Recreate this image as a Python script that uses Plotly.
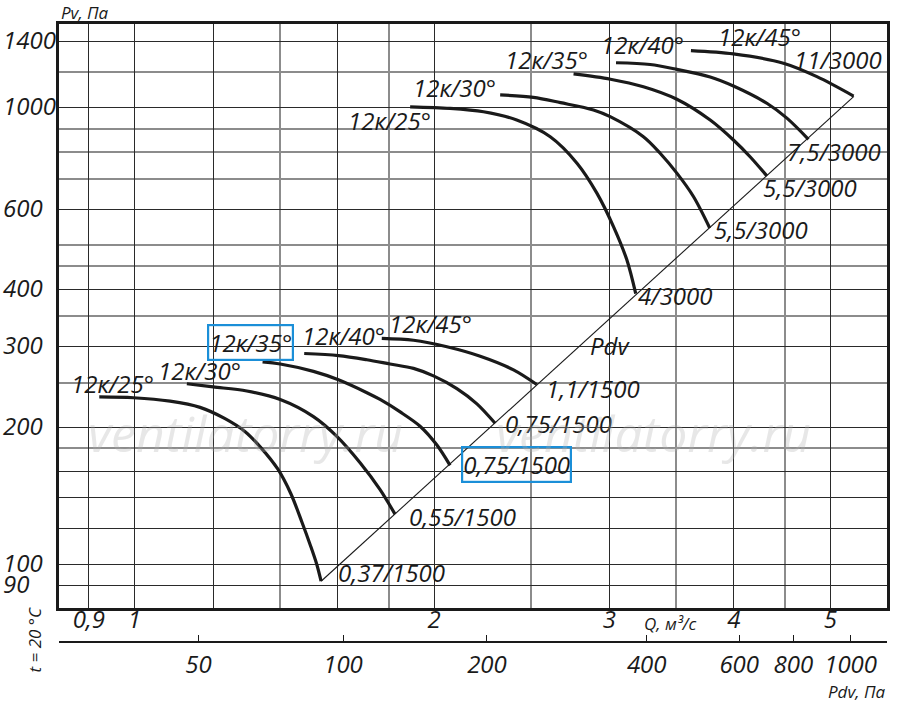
import numpy as np
import plotly.graph_objects as go

# --- fan curves Pv(Q) ---------------------------------------------------
# 1500 rpm group
q_25_1500 = [0.922, 0.998, 1.086, 1.164, 1.232, 1.292, 1.341, 1.393, 1.436, 1.473, 1.504, 1.525, 1.540]
pv_25_1500 = [233, 232, 228, 221, 209, 195.5, 180, 162, 143, 124, 109.5, 100, 92]
q_30_1500 = [1.129, 1.200, 1.297, 1.401, 1.513, 1.597, 1.686, 1.765, 1.827]
pv_30_1500 = [249, 245, 240, 230, 211, 191, 167, 146, 129]
q_35_1500 = [1.345, 1.401, 1.513, 1.603, 1.712, 1.765, 1.849, 1.936, 2.012, 2.075]
pv_35_1500 = [278, 275, 265, 254, 238, 230, 216, 201, 183, 165]
q_40_1500 = [1.481, 1.603, 1.712, 1.806, 1.907, 1.997, 2.108, 2.208, 2.303]
pv_40_1500 = [290, 287, 281, 275, 269, 259, 243, 225, 204]
q_45_1500 = [1.772, 1.907, 2.060, 2.225, 2.403, 2.536]
pv_45_1500 = [313, 310, 300, 286, 267, 248]

# 3000 rpm group
q_25_3000 = [1.892, 2.075, 2.242, 2.421, 2.616, 2.783, 2.914, 3.028, 3.123, 3.188]
pv_25_3000 = [1006, 998, 981, 941, 865, 757, 651, 550, 465, 392]
q_30_3000 = [2.330, 2.516, 2.679, 2.891, 3.005, 3.245, 3.373, 3.506, 3.643, 3.783]
pv_30_3000 = [1068, 1055, 1027, 990, 957, 865, 796, 720, 640, 546]
q_35_3000 = [2.761, 3.007, 3.245, 3.506, 3.787, 3.996, 4.153, 4.317]
pv_35_3000 = [1187, 1156, 1113, 1045, 941, 851, 782, 710]
q_40_3000 = [3.046, 3.296, 3.506, 3.787, 3.996, 4.317, 4.522, 4.753]
pv_40_3000 = [1256, 1245, 1215, 1169, 1117, 1024, 950, 854]
q_45_3000 = [3.622, 3.996, 4.486, 4.847, 5.276]
pv_45_3000 = [1335, 1313, 1253, 1171, 1062]

# dynamic pressure line Pdv
q_pdv = [1.54, 5.28]
pv_pdv = [92, 1060]

# axes
q_ticks = [0.9, 1, 1.2, 1.6, 2, 3, 4, 5]
q_ticktext = ["0,9", "1", "", "", "2", "3", "4", "5"]
q_minor = [1.4, 1.8, 2.5, 3.5, 4.5]
pv_grid = [90, 100, 120, 140, 160, 200, 300, 400, 600, 1000, 1400]
pv_minor = [180, 250, 350, 450, 500, 700, 800, 900, 1200]
pv_labels = [90, 100, 200, 300, 400, 600, 1000, 1400]
pdv_labels = [50, 100, 200, 400, 600, 800, 1000]
pdv_at_q = [1.16, 1.62, 2.26, 3.27, 4.05, 4.59, 5.24]  # where each Pdv tick sits on the Q scale

curves = [
    (q_25_1500, pv_25_1500), (q_30_1500, pv_30_1500), (q_35_1500, pv_35_1500),
    (q_40_1500, pv_40_1500), (q_45_1500, pv_45_1500),
    (q_25_3000, pv_25_3000), (q_30_3000, pv_30_3000), (q_35_3000, pv_35_3000),
    (q_40_3000, pv_40_3000), (q_45_3000, pv_45_3000),
]

# label text with its anchor point (Q, Pv)
labels = [
    ("12к/25°", 0.951, 249), ("12к/30°", 1.163, 266), ("12к/40°", 1.622, 317),
    ("12к/45°", 1.982, 337), ("1,1/1500", 2.891, 243), ("0,75/1500", 2.666, 203.5),
    ("0,55/1500", 2.136, 127.5), ("0,37/1500", 1.813, 96),
    ("12к/25°", 1.805, 941), ("12к/30°", 2.098, 1106), ("12к/35°", 2.596, 1280),
    ("12к/40°", 3.240, 1380), ("12к/45°", 4.244, 1437), ("11/3000", 5.09, 1280),
    ("7,5/3000", 5.047, 801), ("5,5/3000", 4.772, 668), ("5,5/3000", 4.260, 543),
    ("4/3000", 3.499, 388), ("Pdv", 3.004, 301.5),
]
boxed_labels = [("12к/35°", 1.308, 307), ("0,75/1500", 2.421, 166)]

FONT = "Open Sans"
INK = "#1a1a1a"
lbl_font = dict(family=FONT, size=24, color=INK, style="italic")

fig = go.Figure()

for q, pv in curves:
    fig.add_trace(go.Scatter(x=q, y=pv, mode="lines", line=dict(color=INK, width=3.2, shape="spline", smoothing=0.9),
                             hoverinfo="skip", showlegend=False))

fig.add_trace(go.Scatter(x=q_pdv, y=pv_pdv, mode="lines", line=dict(color=INK, width=1.1),
                         hoverinfo="skip", showlegend=False))
# empty trace so the Pdv scale gets drawn
fig.add_trace(go.Scatter(x=[], y=[], xaxis="x2", yaxis="y", showlegend=False))

ann = []
for text, q, pv in labels:
    ann.append(dict(x=np.log10(q), y=np.log10(pv), xref="x", yref="y", text=text, showarrow=False, font=lbl_font))
for text, q, pv in boxed_labels:
    ann.append(dict(x=np.log10(q), y=np.log10(pv), xref="x", yref="y", text=text, showarrow=False, font=lbl_font,
                    bordercolor="#1b8fd8", borderwidth=2.2, borderpad=0))
for v in pv_labels:
    ann.append(dict(x=-0.0695, y=np.log10(v), xref="paper", yref="y", xanchor="left", yanchor="middle", yshift=2,
                    text=str(v), showarrow=False, font=lbl_font))

# watermark
for q in [1.292, 3.319]:
    ann.append(dict(x=np.log10(q), y=np.log10(194.5), xref="x", yref="y", text="ventilatorry.ru", showarrow=False,
                    font=dict(family=FONT, size=50, color="rgba(175,175,175,0.3)", style="italic")))

small = dict(family=FONT, size=17, color=INK, style="italic")
ann += [
    dict(x=0.0, y=1.0194, xref="paper", yref="paper", xanchor="left", yanchor="middle",
         text="Pv, Па", showarrow=False, font=small),
    dict(x=0.739, y=0.0296, xref="paper", yref="paper", xanchor="center", yanchor="middle",
         text="Q, м³/с", showarrow=False, font=small),
    dict(x=0.963, y=-0.0804, xref="paper", yref="paper", xanchor="center", yanchor="middle",
         text="Pdv, Па", showarrow=False, font=small),
    dict(x=-0.029, y=0.004, xref="paper", yref="paper", xanchor="center", yanchor="middle",
         text="t = 20 °C", textangle=-90, showarrow=False, font=small),
]

xr = [np.log10(0.84), np.log10(5.70)]
fig.update_layout(
    width=900, height=709,
    margin=dict(l=59, r=13, t=24, b=67, pad=0),
    paper_bgcolor="white", plot_bgcolor="white",
    annotations=ann,
    xaxis=dict(type="log", range=xr, tickmode="array", tickvals=q_ticks, ticktext=q_ticktext,
               tickfont=lbl_font, ticks="", ticklabelstandoff=-12, automargin=False,
               showgrid=True, gridcolor="#2a2a2a", gridwidth=1,
               minor=dict(tickmode="array", tickvals=q_minor, showgrid=True, gridcolor="#8c8c8c", gridwidth=1.6, ticks=""),
               showline=True, linecolor=INK, linewidth=2.6, mirror=True, zeroline=False),
    yaxis=dict(type="log", range=[np.log10(80.2), np.log10(1527)], domain=[0.0543, 1],
               tickmode="array", tickvals=pv_grid, showticklabels=False, ticks="", automargin=False,
               showgrid=True, gridcolor="#2a2a2a", gridwidth=1,
               minor=dict(tickmode="array", tickvals=pv_minor, showgrid=True, gridcolor="#8c8c8c", gridwidth=1.6, ticks=""),
               showline=True, linecolor=INK, linewidth=2.6, mirror=True, zeroline=False),
    xaxis2=dict(type="log", range=xr, overlaying="x", anchor="free", position=0, side="bottom", automargin=False,
                tickmode="array", tickvals=pdv_at_q, ticktext=[str(v) for v in pdv_labels],
                ticks="inside", ticklen=6, tickwidth=1.3, tickcolor=INK, tickfont=lbl_font, ticklabelstandoff=1,
                showgrid=False, showline=True, linecolor=INK, linewidth=2, zeroline=False),
)

# the page's default body margin would shift the figure by 8px
fig.write_html("out.html", config={"displayModeBar": False},
               post_script="document.body.style.margin='0';")
